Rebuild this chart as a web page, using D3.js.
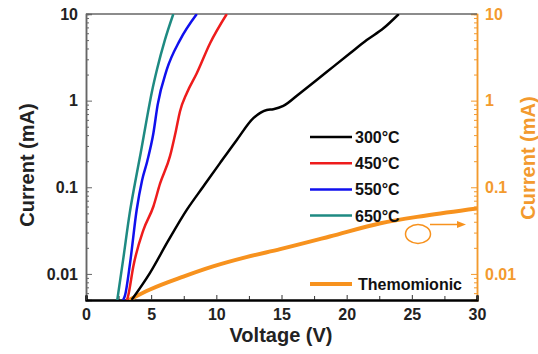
<!DOCTYPE html>
<html>
<head>
<meta charset="utf-8">
<script src="https://cdn.jsdelivr.net/npm/d3@7"></script>
<style>
  body { margin: 0; background: #fff; }
  svg { display: block; font-family: "Liberation Sans", Arial, sans-serif; font-weight: bold; }
</style>
</head>
<body>
<div id="chart"></div>
<script>
// voltage (V) / current (mA)
const v300 = [3.5, 4.9, 6.3, 7.73, 9.0, 10.28, 11.57, 12.84, 13.87, 14.37, 15.14, 16.42, 17.7, 18.98, 20.26, 21.54, 22.82, 24.0];
const i300 = [0.005, 0.0102, 0.024, 0.0548, 0.102, 0.19, 0.352, 0.627, 0.78, 0.796, 0.869, 1.22, 1.73, 2.47, 3.52, 5.0, 6.84, 10];
const v450 = [3.15, 3.25, 3.63, 4.4, 5.17, 5.68, 6.45, 6.9, 7.21, 7.73, 8.5, 9.52, 10.8];
const i450 = [0.005, 0.0057, 0.0122, 0.032, 0.06, 0.11, 0.23, 0.45, 0.75, 1.22, 2.07, 4.6, 10];
const v550 = [2.85, 3.0, 3.38, 3.89, 4.3, 4.7, 5.17, 5.5, 6.19, 7.21, 8.5];
const i550 = [0.005, 0.0057, 0.0133, 0.055, 0.12, 0.2, 0.42, 0.9, 2.26, 5.0, 10];
const v650 = [2.4, 2.85, 3.35, 3.75, 4.2, 4.65, 5.05, 5.45, 6.05, 6.7];
const i650 = [0.005, 0.0146, 0.05, 0.11, 0.25, 0.6, 1.25, 2.3, 5.0, 10];
const vTherm = [3.3, 4.91, 7.47, 9.75, 12.3, 14.9, 18.7, 22.6, 26, 30];
const iTherm = [0.005, 0.0066, 0.0093, 0.0122, 0.0156, 0.0193, 0.027, 0.0385, 0.047, 0.057];

const legendLabels = ["300°C", "450°C", "550°C", "650°C"];
const xTicks = [0, 5, 10, 15, 20, 25, 30];
const yTicks = [0.01, 0.1, 1, 10];

const orange = "#f7921e";
const orangeAxis = "#f39a2e";

const series = [
  { name: legendLabels[0], v: v300, i: i300, color: "#000000" },
  { name: legendLabels[1], v: v450, i: i450, color: "#ee1c1c" },
  { name: legendLabels[2], v: v550, i: i550, color: "#1010ee" },
  { name: legendLabels[3], v: v650, i: i650, color: "#1e8a82" }
];

const width = 538, height = 354;
const x = d3.scaleLinear().domain([0, 30]).range([86, 477]);
const y = d3.scaleLog().domain([0.005, 10]).range([300, 14]);

const svg = d3.select("#chart").append("svg")
  .attr("width", width)
  .attr("height", height);

svg.append("clipPath").attr("id", "clip")
  .append("rect")
  .attr("x", x(0)).attr("y", y(10))
  .attr("width", x(30) - x(0)).attr("height", y(0.005) - y(10));

const minor = y.ticks().filter(t => !yTicks.includes(t));

// left axis
const leftMinor = svg.append("g")
  .attr("transform", `translate(${x(0)},0)`)
  .call(d3.axisLeft(y).tickValues(minor).tickSize(-3).tickFormat(""));
const leftMajor = svg.append("g")
  .attr("transform", `translate(${x(0)},0)`)
  .call(d3.axisLeft(y).tickValues(yTicks).tickSize(-6).tickPadding(8).tickFormat(d => String(d)));
[leftMinor, leftMajor].forEach(g => {
  g.select(".domain").attr("stroke", "#666").attr("stroke-width", 1.5);
  g.selectAll(".tick line").attr("stroke", "#666");
});
leftMajor.selectAll("text").attr("font-size", 16).attr("fill", "#222");

// right axis
const rightMinor = svg.append("g")
  .attr("transform", `translate(${x(30)},0)`)
  .call(d3.axisRight(y).tickValues(minor).tickSize(-3).tickFormat(""));
const rightMajor = svg.append("g")
  .attr("transform", `translate(${x(30)},0)`)
  .call(d3.axisRight(y).tickValues(yTicks).tickSize(-6).tickPadding(8).tickFormat(d => String(d)));
[rightMinor, rightMajor].forEach(g => {
  g.select(".domain").attr("stroke", orangeAxis).attr("stroke-width", 1.5);
  g.selectAll(".tick line").attr("stroke", orangeAxis);
});
rightMajor.selectAll("text").attr("font-size", 16).attr("fill", orangeAxis);

// top border
svg.append("line")
  .attr("x1", x(0)).attr("x2", x(30))
  .attr("y1", y(10)).attr("y2", y(10))
  .attr("stroke", "#666").attr("stroke-width", 1.5);

// bottom axis
const bottomMinor = svg.append("g")
  .attr("transform", `translate(0,${y(0.005)})`)
  .call(d3.axisBottom(x).tickValues(d3.range(2.5, 30, 5)).tickSize(-4).tickFormat(""));
const bottomMajor = svg.append("g")
  .attr("transform", `translate(0,${y(0.005)})`)
  .call(d3.axisBottom(x).tickValues(xTicks).tickSize(-5).tickPadding(9).tickFormat(d3.format("d")));
[bottomMinor, bottomMajor].forEach(g => {
  g.select(".domain").attr("stroke", "#000").attr("stroke-width", 2);
  g.selectAll(".tick line").attr("stroke", "#333");
});
bottomMajor.selectAll("text").attr("font-size", 16).attr("fill", "#222");

// curves
const line = d3.line()
  .x(d => x(d[0]))
  .y(d => y(d[1]))
  .curve(d3.curveMonotoneX);

const plot = svg.append("g").attr("clip-path", "url(#clip)");

plot.append("path")
  .datum(d3.zip(vTherm, iTherm))
  .attr("d", line)
  .attr("fill", "none")
  .attr("stroke", orange)
  .attr("stroke-width", 4);

series.forEach(s => {
  plot.append("path")
    .datum(d3.zip(s.v, s.i))
    .attr("d", line)
    .attr("fill", "none")
    .attr("stroke", s.color)
    .attr("stroke-width", 2.5);
});

// legend
const legend = svg.append("g");
series.forEach((s, k) => {
  const ly = 137 + k * 26.2;
  legend.append("line")
    .attr("x1", 310).attr("x2", 352)
    .attr("y1", ly).attr("y2", ly)
    .attr("stroke", s.color).attr("stroke-width", 2.5);
  legend.append("text")
    .attr("x", 355).attr("y", ly + 6)
    .attr("font-size", 16).attr("fill", "#111")
    .text(s.name);
});
legend.append("line")
  .attr("x1", 310).attr("x2", 352)
  .attr("y1", 284).attr("y2", 284)
  .attr("stroke", orange).attr("stroke-width", 4);
legend.append("text")
  .attr("x", 358).attr("y", 290)
  .attr("font-size", 16).attr("fill", "#111")
  .text("Themomionic");

// marker that points to the right axis
svg.append("ellipse")
  .attr("cx", 418).attr("cy", 234)
  .attr("rx", 12.5).attr("ry", 9.5)
  .attr("fill", "none").attr("stroke", orange).attr("stroke-width", 1.5);
svg.append("line")
  .attr("x1", 430).attr("x2", 458)
  .attr("y1", 224.5).attr("y2", 224.5)
  .attr("stroke", orange).attr("stroke-width", 1.5);
svg.append("path")
  .attr("d", "M457,221 L466,224.5 L457,228 Z")
  .attr("fill", orange);

// axis titles
svg.append("text")
  .attr("transform", "translate(34,165) rotate(-90)")
  .attr("text-anchor", "middle")
  .attr("font-size", 20).attr("fill", "#222")
  .text("Current (mA)");
svg.append("text")
  .attr("transform", "translate(535,158) rotate(-90)")
  .attr("text-anchor", "middle")
  .attr("font-size", 20).attr("fill", orangeAxis)
  .text("Current (mA)");
svg.append("text")
  .attr("x", 281).attr("y", 342)
  .attr("text-anchor", "middle")
  .attr("font-size", 20).attr("fill", "#222")
  .text("Voltage (V)");
</script>
</body>
</html>
